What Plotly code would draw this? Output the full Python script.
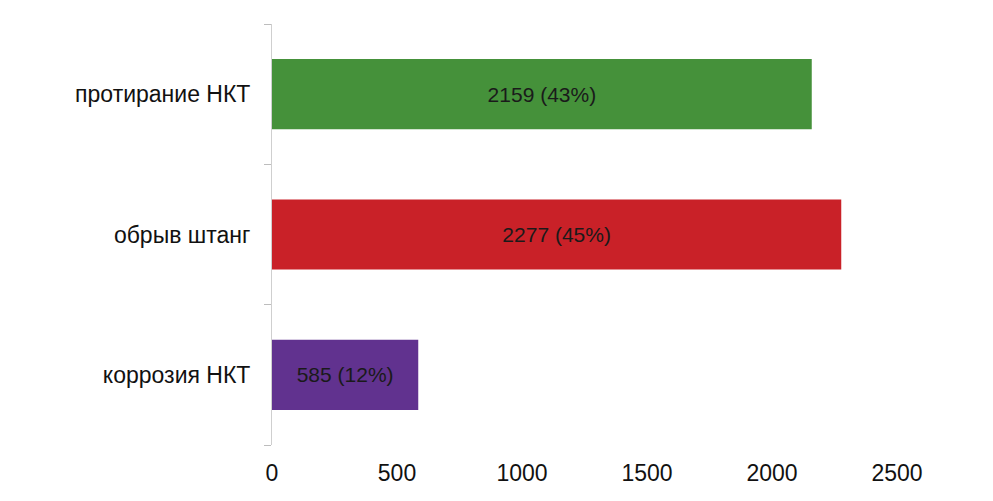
import plotly.graph_objects as go

# причины отказов (снизу вверх)
categories = ["коррозия НКТ", "обрыв штанг", "протирание НКТ"]
counts = [585, 2277, 2159]
shares = [12, 45, 43]
bar_colors = ["#61328F", "#C92128", "#45913A"]
x_ticks = [0, 500, 1000, 1500, 2000, 2500]

labels = [f"{c} ({s}%)" for c, s in zip(counts, shares)]

fig = go.Figure()
fig.add_trace(
    go.Bar(
        x=counts,
        y=categories,
        orientation="h",
        marker_color=bar_colors,
        marker_line_width=0,
        text=labels,
        textposition="inside",
        insidetextanchor="middle",
        textangle=0,
        textfont=dict(size=21, color="#1a1a1a"),
        hoverinfo="skip",
    )
)

fig.update_layout(
    width=993,
    height=501,
    margin=dict(l=264, r=104, t=16, b=64),
    paper_bgcolor="white",
    plot_bgcolor="white",
    font=dict(family="Liberation Sans, Arial, sans-serif", color="#111111"),
    bargap=0.5,
    showlegend=False,
)
fig.update_xaxes(
    range=[0, 2500],
    tickvals=x_ticks,
    showgrid=False,
    zeroline=False,
    showline=False,
    ticks="",
    tickfont=dict(size=23),
    ticklabelstandoff=12,
)
fig.update_yaxes(
    showline=True,
    linecolor="#cfcfcf",
    linewidth=1,
    ticks="outside",
    tickson="boundaries",
    ticklen=7,
    tickcolor="#bdbdbd",
    showgrid=False,
    tickfont=dict(size=23),
    ticklabelstandoff=16,
)

fig.write_html("out.html")
